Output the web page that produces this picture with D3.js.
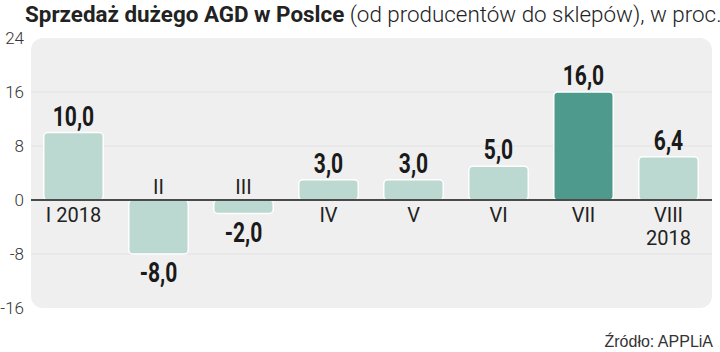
<!DOCTYPE html>
<html>
<head>
<meta charset="utf-8">
<script src="https://cdn.jsdelivr.net/npm/d3@7"></script>
<style>
  body { margin: 0; background: #fff; }
  svg { display: block; }
</style>
</head>
<body>
<svg id="chart"></svg>
<script>
var categories = [["I 2018"], ["II"], ["III"], ["IV"], ["V"], ["VI"], ["VII"], ["VIII", "2018"]];
var values = [10.0, -8.0, -2.0, 3.0, 3.0, 5.0, 16.0, 6.4];
var highlighted = [false, false, false, false, false, false, true, false];
var yTicks = [24, 16, 8, 0, -8, -16];

var width = 720, height = 352;
var svg = d3.select("#chart").attr("width", width).attr("height", height);

var panel = { left: 31, right: 712, top: 38, bottom: 308 };

var x = d3.scaleBand()
    .domain(d3.range(values.length))
    .range([31, 711])
    .paddingInner(0.3)
    .paddingOuter(0.15);
var y = d3.scaleLinear()
    .domain([-16, 24])
    .range([panel.bottom, panel.top]);

// title
var title = svg.append("text")
    .attr("x", 25)
    .attr("y", 22)
    .style("font-family", "Roboto, 'Noto Sans', sans-serif")
    .style("font-size", "22.4px")
    .style("fill", "#222");
title.append("tspan").style("font-weight", "bold").text("Sprzedaż dużego AGD w Poslce");
title.append("tspan").style("font-weight", "300").text(" (od producentów do sklepów), w proc.");

// panel background
svg.append("rect")
    .attr("x", panel.left)
    .attr("y", panel.top)
    .attr("width", panel.right - panel.left)
    .attr("height", panel.bottom - panel.top)
    .attr("rx", 12)
    .attr("fill", "#efefef");

// grid lines
svg.selectAll(".grid")
    .data(yTicks.filter(d => d !== 0 && d !== 24 && d !== -16))
    .join("line")
    .attr("class", "grid")
    .attr("x1", panel.left)
    .attr("x2", panel.right)
    .attr("y1", d => y(d))
    .attr("y2", d => y(d))
    .attr("stroke", "#e2e2e2")
    .attr("stroke-width", 1);

// y tick labels
svg.selectAll(".ytick")
    .data(yTicks)
    .join("text")
    .attr("class", "ytick")
    .attr("x", 24)
    .attr("y", d => y(d))
    .attr("dy", "0.36em")
    .attr("text-anchor", "end")
    .style("font-family", "Roboto, sans-serif")
    .style("font-weight", "300")
    .style("font-size", "17px")
    .style("fill", "#333")
    .text(d => d);

// bars
svg.selectAll(".bar")
    .data(values)
    .join("rect")
    .attr("class", "bar")
    .attr("x", (d, i) => x(i))
    .attr("y", d => y(Math.max(0, d)))
    .attr("width", x.bandwidth())
    .attr("height", d => Math.abs(y(d) - y(0)))
    .attr("rx", 4)
    .attr("fill", (d, i) => highlighted[i] ? "#4e9a8c" : "#bcd9d1")
    .attr("stroke", "#fff")
    .attr("stroke-width", 1.5);

// zero line
svg.append("line")
    .attr("x1", panel.left)
    .attr("x2", panel.right)
    .attr("y1", y(0))
    .attr("y2", y(0))
    .attr("stroke", "#4a4a4a")
    .attr("stroke-width", 2);

// value labels (condensed by horizontal scaling)
svg.selectAll(".value")
    .data(values)
    .join("text")
    .attr("class", "value")
    .attr("transform", (d, i) => {
        var cx = x(i) + x.bandwidth() / 2;
        var ty = d >= 0 ? y(d) - 7 : y(d) + 28;
        return "translate(" + cx + "," + ty + ") scale(0.78,1)";
    })
    .attr("text-anchor", "middle")
    .style("font-family", "Roboto, sans-serif")
    .style("font-weight", "bold")
    .style("font-size", "27px")
    .style("fill", "#1a1a1a")
    .text(d => d.toFixed(1).replace(".", ","));

// category labels
var cat = svg.selectAll(".cat")
    .data(values)
    .join("text")
    .attr("class", "cat")
    .attr("text-anchor", "middle")
    .style("font-family", "Roboto, sans-serif")
    .style("font-weight", "400")
    .style("font-size", "20px")
    .style("fill", "#222");
cat.each(function(d, i) {
    var t = d3.select(this);
    var cx = x(i) + x.bandwidth() / 2;
    var base = d >= 0 ? y(0) + 22 : y(0) - 6;
    categories[i].forEach(function(line, j) {
        t.append("tspan")
            .attr("x", cx)
            .attr("y", base + j * 23)
            .text(line);
    });
});

// source
svg.append("text")
    .attr("x", 713)
    .attr("y", 347)
    .attr("text-anchor", "end")
    .style("font-family", "'Liberation Sans', Arial, sans-serif")
    .style("font-size", "16px")
    .style("fill", "#333")
    .text("Źródło: APPLiA");
</script>
</body>
</html>
